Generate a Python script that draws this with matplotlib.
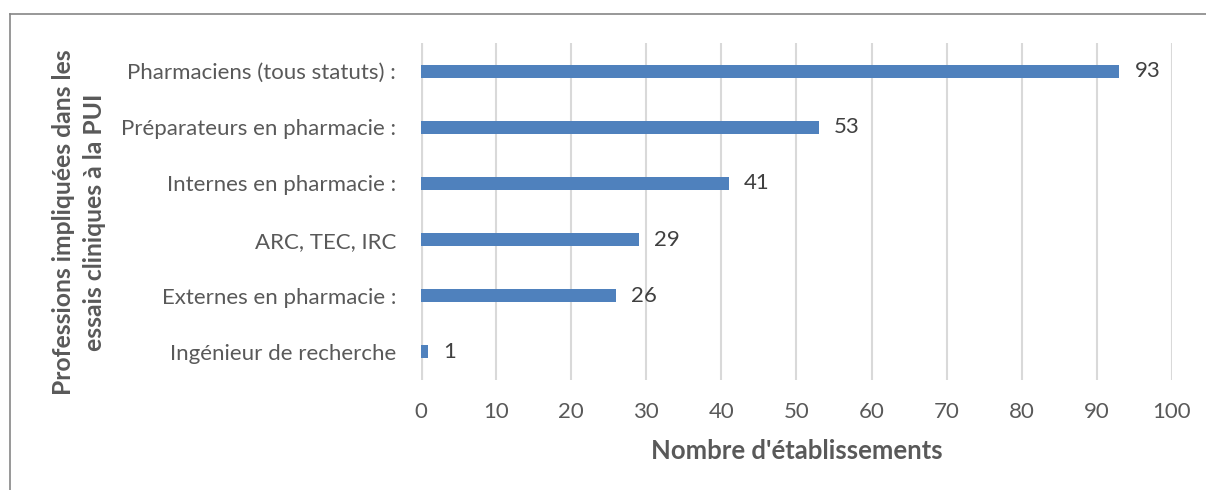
import matplotlib.pyplot as plt
from matplotlib.lines import Line2D

# data
categories = [
    "Pharmaciens (tous statuts) :",
    "Préparateurs en pharmacie :",
    "Internes en pharmacie :",
    "ARC, TEC, IRC",
    "Externes en pharmacie :",
    "Ingénieur de recherche",
]
counts = [93, 53, 41, 29, 26, 1]
x_ticks = list(range(0, 101, 10))

plt.rcParams['font.family'] = ['Lato', 'DejaVu Sans']
text_col = '#595959'

fig = plt.figure(figsize=(12.06, 4.9), dpi=100)
ax = fig.add_axes([0.349, 0.2245, 0.6228, 0.6875])

pos = list(range(len(categories)))[::-1]
ax.barh(pos, counts, height=0.23, color='#4f81bd', zorder=3)

for p, v in zip(pos, counts):
    ax.annotate(str(v), (v, p), xytext=(11, 0), textcoords='offset points',
                va='center', ha='left', fontsize=16, color='#404040')

ax.set_xlim(0, 100)
ax.set_ylim(-0.5, 5.5)
ax.set_xticks(x_ticks)
ax.set_yticks(pos)
ax.set_yticklabels(categories)
ax.tick_params(axis='both', length=0, labelsize=16, labelcolor=text_col)
ax.tick_params(axis='y', pad=18)
ax.tick_params(axis='x', pad=16)
ax.grid(axis='x', color='#d9d9d9', linewidth=1.5, zorder=0)
for s in ax.spines.values():
    s.set_visible(False)
ax.axvline(0, color='#d9d9d9', linewidth=3, zorder=1)

ax.set_xlabel("Nombre d'établissements", fontsize=18.5, fontweight='bold',
              color=text_col, labelpad=12)
fig.text(0.0655, 0.547, "Professions impliquées dans les\nessais cliniques à la PUI",
         rotation=90, ha='center', va='center', fontsize=17.8, fontweight='bold',
         color=text_col, linespacing=1.4)

# outer frame (only top and left visible in the crop)
fig.add_artist(Line2D([10 / 1206, 1], [1 - 14 / 490] * 2, transform=fig.transFigure,
                      color='#868686', linewidth=1.2))
fig.add_artist(Line2D([10 / 1206] * 2, [0, 1 - 14 / 490], transform=fig.transFigure,
                      color='#868686', linewidth=1.2))

fig.savefig('out.png', dpi=100)
